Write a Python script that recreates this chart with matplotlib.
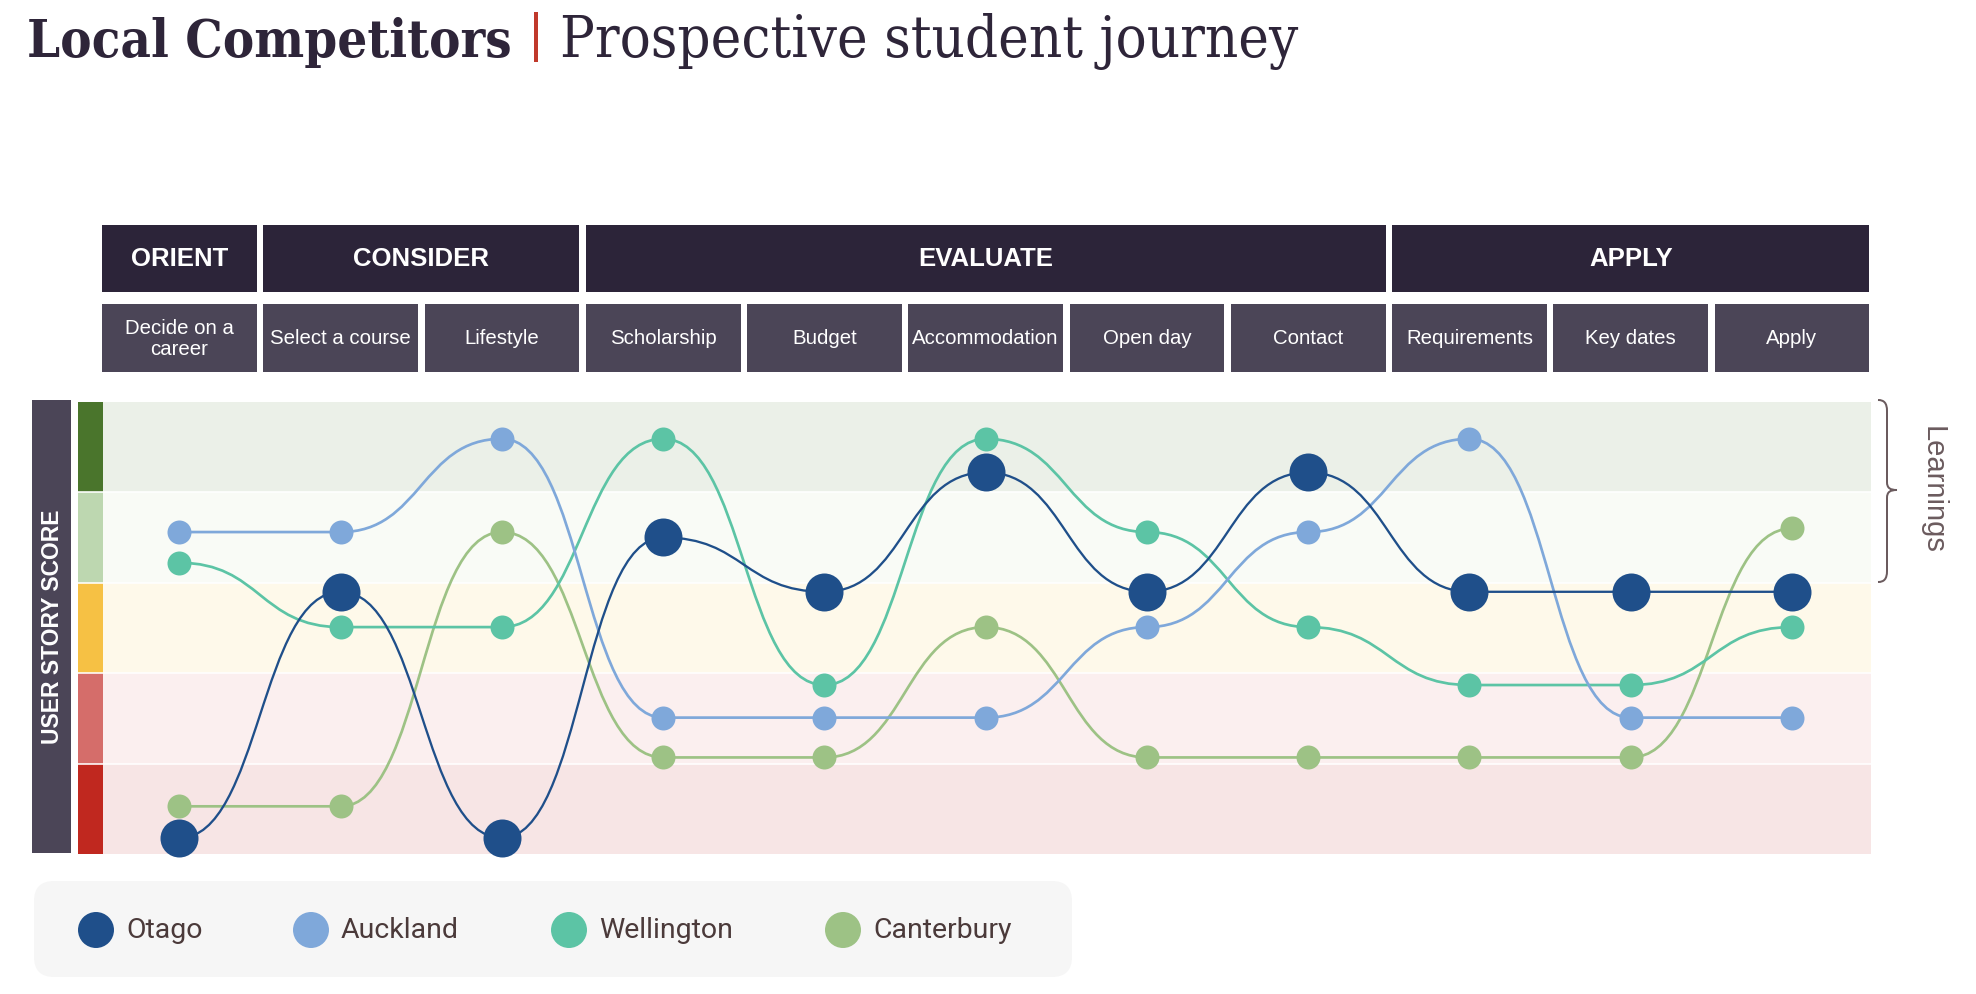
import matplotlib
matplotlib.use("Agg")
import matplotlib.pyplot as plt
import matplotlib.transforms as mtransforms
from matplotlib import font_manager
from matplotlib.patches import Rectangle, FancyBboxPatch, PathPatch
from matplotlib.path import Path

# ---------------- data ----------------
phases = ["ORIENT", "CONSIDER", "EVALUATE", "APPLY"]
phase_first = [0, 1, 3, 8]
phase_last = [0, 2, 7, 10]
steps = ["Decide on a\ncareer", "Select a course", "Lifestyle", "Scholarship", "Budget",
         "Accommodation", "Open day", "Contact", "Requirements", "Key dates", "Apply"]

series_names = ["Otago", "Auckland", "Wellington", "Canterbury"]
otago = [0.18, 2.90, 0.18, 3.50, 2.90, 4.22, 2.90, 4.22, 2.90, 2.90, 2.90]
auckland = [3.56, 3.56, 4.59, 1.51, 1.51, 1.51, 2.51, 3.56, 4.59, 1.51, 1.51]
wellington = [3.22, 2.51, 2.51, 4.59, 1.87, 4.59, 3.56, 2.51, 1.87, 1.87, 2.51]
canterbury = [0.53, 0.53, 3.56, 1.07, 1.07, 2.51, 1.07, 1.07, 1.07, 1.07, 3.60]
series_values = [otago, auckland, wellington, canterbury]
series_colors = ["#1f4f8a", "#7fa8da", "#5cc4a5", "#9dc285"]

band_bg = ["#f7e5e5", "#fbefef", "#fef9ea", "#f9fbf6", "#ebf0e8"]     # bottom -> top
band_bar = ["#c0281f", "#d56d6a", "#f6c144", "#bdd7b0", "#4a752c"]

# ---------------- figure ----------------
W, H = 1976, 994
fig = plt.figure(figsize=(W / 100, H / 100), dpi=100)


def rect(x0, y0, x1, y1):
    return [x0 / W, 1 - y1 / H, (x1 - x0) / W, (y1 - y0) / H]


bg = fig.add_axes([0, 0, 1, 1], zorder=0)
bg.set_xlim(0, W)
bg.set_ylim(H, 0)
bg.axis("off")

AX_L, AX_R = 102, 1871
ax = fig.add_axes(rect(AX_L, 401.7, AX_R, 854.3), zorder=2)
ax.set_xlim(-0.48, 10.49)
ax.set_ylim(0, 5)
ax.axis("off")

hd = fig.add_axes(rect(AX_L, 225, AX_R, 372), zorder=2)
hd.set_xlim(-0.48, 10.49)
hd.set_ylim(372, 225)
hd.axis("off")

px2 = 0.72  # pixels -> points

# ---------------- title ----------------
tcol = "#2e2539"
serif_names = {f.name for f in font_manager.fontManager.ttflist}
stretch = "condensed" if any("Condensed" in f.fname and "Serif" in f.fname
                             for f in font_manager.fontManager.ttflist) else "normal"
t1 = bg.text(27, 57, "Local Competitors", fontfamily="DejaVu Serif", fontweight="bold",
             fontstretch=stretch, fontsize=36, color=tcol, va="baseline", ha="left")
t2 = bg.text(560, 57, "Prospective student journey", fontfamily="DejaVu Serif",
             fontstretch=stretch, fontsize=36, color=tcol, va="baseline", ha="left")
fig.canvas.draw()
r = fig.canvas.get_renderer()
for t, target in ((t1, 484), (t2, 739)):
    w = t.get_window_extent(r).width
    t.set_fontsize(36 * target / w)
bg.add_patch(Rectangle((534, 12), 4, 50, color="#c0392b", lw=0))

# ---------------- header ----------------
for name, a, b in zip(phases, phase_first, phase_last):
    hd.add_patch(Rectangle((a - 0.48, 225), (b - a) + 0.96, 67, color="#2c2439", lw=0))
    hd.text((a + b) / 2, 259, name, ha="center", va="center", color="white",
            fontsize=18.5, fontweight="bold", fontfamily="Liberation Sans")
for i, s in enumerate(steps):
    hd.add_patch(Rectangle((i - 0.48, 304), 0.96, 68, color="#4b4557", lw=0))
    hd.text(i, 339, s, ha="center", va="center", color="white", fontsize=14.7,
            fontfamily="Liberation Sans", linespacing=1.15)

# ---------------- bands ----------------
trans = mtransforms.blended_transform_factory(bg.transData, ax.transData)
for i in range(5):
    ax.axhspan(i, i + 1, color=band_bg[i], lw=0, zorder=0)
    ax.add_patch(Rectangle((78, i), 25, 1, transform=trans, color=band_bar[i], lw=0,
                           clip_on=False, zorder=0))
for b in range(1, 5):
    ax.plot([78, AX_R], [b, b], transform=trans, color="white", lw=1.6 * px2,
            clip_on=False, zorder=1)

# score label bar
bg.add_patch(Rectangle((32, 400), 39, 453, color="#4b4557", lw=0))
bg.text(52, 627, "USER STORY SCORE", rotation=90, ha="center", va="center",
        color="white", fontsize=16.5, fontweight="bold", fontfamily="Liberation Sans")

# ---------------- curves ----------------
xs = list(range(len(steps)))
order = [3, 2, 1, 0]
for k in order:
    vals = series_values[k]
    verts = [(xs[0], vals[0])]
    codes = [Path.MOVETO]
    for j in range(1, len(xs)):
        xm = (xs[j - 1] + xs[j]) / 2
        verts += [(xm, vals[j - 1]), (xm, vals[j]), (xs[j], vals[j])]
        codes += [Path.CURVE4] * 3
    lw = 2.3 if k == 0 else 2.7
    ax.add_patch(PathPatch(Path(verts, codes), fc="none", ec=series_colors[k],
                           lw=lw * px2, zorder=3, capstyle="round"))
for k in order:
    ms = 38 if k == 0 else 24
    ax.plot(xs, series_values[k], "o", ms=ms * px2, color=series_colors[k],
            mec="none", zorder=4 + (1 if k == 0 else 0), clip_on=False)

# ---------------- brace + Learnings ----------------
bc = "#6b5b5e"
bverts = [(1878, 400), (1884, 400), (1887, 403), (1887, 411), (1887, 482),
          (1887, 488), (1890, 490), (1897, 490),
          (1890, 490), (1887, 492), (1887, 498), (1887, 571),
          (1887, 579), (1884, 582), (1878, 582)]
bcodes = [Path.MOVETO, Path.CURVE4, Path.CURVE4, Path.CURVE4, Path.LINETO,
          Path.CURVE4, Path.CURVE4, Path.CURVE4,
          Path.CURVE4, Path.CURVE4, Path.CURVE4, Path.LINETO,
          Path.CURVE4, Path.CURVE4, Path.CURVE4]
bg.add_patch(PathPatch(Path(bverts, bcodes), fc="none", ec=bc, lw=2 * px2))
bg.text(1933, 490, "Learnings", rotation=270, ha="center", va="center", color=bc,
        fontsize=21, fontfamily="Liberation Sans")

# ---------------- legend ----------------
bg.add_patch(FancyBboxPatch((34, 881), 1038, 96,
                            boxstyle="round,pad=0,rounding_size=20",
                            fc="#f6f6f6", ec="none"))
leg_x = [96, 311, 569, 843]
for name, c, lx in zip(series_names, series_colors, leg_x):
    bg.scatter([lx], [930], s=(36 * px2) ** 2, color=c, edgecolors="none", zorder=3)
    bg.text(lx + 30, 931, name, ha="left", va="center", color="#4b3a3a",
            fontsize=20.5, fontfamily="Roboto")

fig.savefig("out.png", dpi=100, facecolor="white")
